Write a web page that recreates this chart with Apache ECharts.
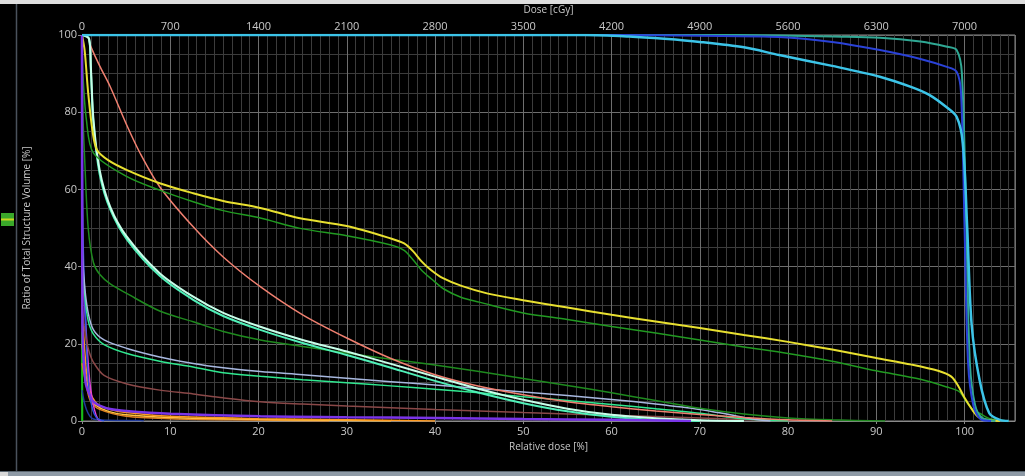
<!DOCTYPE html>
<html><head><meta charset="utf-8">
<script src="https://cdn.jsdelivr.net/npm/echarts@6/dist/echarts.min.js"></script>
<style>html,body{margin:0;padding:0;background:#000;}#c{width:1025px;height:476px;}</style>
</head><body><div id="c"></div>
<script>
// ---- tick labels ----
const relTicks = [0,10,20,30,40,50,60,70,80,90,100];
const doseTicks = [0,700,1400,2100,2800,3500,4200,4900,5600,6300,7000];
const volTicks = [0,20,40,60,80,100];
const prescription = 7000;   // cGy at 100 %
const relMax = 7400 / 70;    // 105.714 %

// ---- DVH curves: relative dose [%] / volume [%] ----
const tealX = [0,70,79,85,90.4,95,97.9,99.1,99.7,100.2,100.6,101.2,102,103.5];
const tealY = [100,100,99.9,99.6,99.3,98.3,97,96.1,90,50,15,4,0.8,0];
const blueX = [0,60,70,79,85,90.4,95,97.9,99.1,99.6,100.0,100.4,101,101.8,103];
const blueY = [100,100,99.8,99.5,98.2,96.1,93.8,91.8,90.5,85,50,15,4,0.5,0];
const cyanX = [0,57,62,66,70,75,79,85,90.4,94,96,97.9,99.1,99.8,100.3,100.8,101.7,102.8,104,105];
const cyanY = [100,100,99.6,99,98.2,96.8,94.8,92,89.2,86.5,84.5,81.4,78.8,72,50,25,10.6,2,0.3,0];
const yellowX = [0,0.3,0.7,1.2,1.7,3,5.1,8.8,12.6,16,20.2,24.7,30,35,36.5,37.5,38.5,39.5,40.9,43,46,50,55,60,65,70,75,80,85,90,94,97,98.5,99.3,100,100.9,101.6,102.5,104];
const yellowY = [100,96,85,75,70.2,67.5,65,61.6,59,57,55.2,52.5,50.5,47.3,46,44,41.3,39.2,37,35,33,31.3,29.4,27.5,25.8,24.1,22.3,20.5,18.5,16.3,14.6,13,11.5,9,6,2.8,1,0.3,0];
const greenAX = [0,0.1,0.5,1.3,5.1,8.8,12.6,16,20.2,24.7,30,35,36.5,37.5,38.5,39.6,41,43,45,50,55,60,65,70,75,80,85,90,95,98,99.4,100.2,101,101.7,103,105];
const greenAY = [100,90,78,69.4,63.3,59.8,56.8,54.5,52.6,49.9,48,45.6,44.2,41.8,39,36.8,34.2,32,30.8,28,26.3,24.5,22.8,21,19.2,17.5,15.5,13,10.8,8.8,7.6,5,2.8,2,0.5,0];
const greenBX = [0,0.1,0.3,0.7,1.3,2,3.2,5.1,8.8,12.6,16,20.2,25,30,35,40,45,50,55,60,65,70,75,80,85,91];
const greenBY = [100,80,68,50,41,38,35.5,33,28.5,25.7,23.2,21,19.3,17.6,16,14.5,12.8,11,9.2,7.3,5.3,3.3,1.8,0.8,0.3,0];
const salmonX = [0,0.5,1,2,3.2,5,6.6,8.8,12.6,16,20.2,25,30,35,40,45,50,55,60,65,70,75,80,85];
const salmonY = [100,100,97,92,86.6,77,69.3,60.7,50.3,42.5,34.8,27.5,21.5,16.2,12,9,6.8,5,3.7,2.6,1.7,0.9,0.3,0];
const paleX = [0,0.8,1.0,1.3,2,3.2,5.1,8.8,12.6,16,20.2,25,30,35,40,45,50,55,60,65,70,75];
const paleY = [100,99,92,78,65,55.5,47.7,38.3,32.2,28,24.4,21,18,14.8,11.5,8.3,5.5,3.2,1.6,0.7,0.2,0];
const aquaX = [0,0.8,1.0,1.3,2,3.2,5.1,8.8,12.6,16,20.2,25,30,35,40,45,50,55,60,65,70];
const aquaY = [100,99,91,77,64,54.8,47,37.6,31.4,27.2,23.6,20.2,17.1,13.8,10.4,7.3,4.6,2.5,1.1,0.3,0];
const lavenderX = [0,0.05,0.3,0.7,1.3,2.5,5.1,8.8,12.6,16,20.2,25,30,35,40,45,50,55,60,65,70,73,76,78];
const lavenderY = [100,45,35,28,23.6,21,18.8,16.6,14.9,13.8,12.8,12,11.1,10.2,9.3,8.4,7.5,6.6,5.6,4.4,3,1.8,0.5,0];
const mintX = [0,0.05,0.3,0.7,1.3,2.5,5.1,8.8,12.6,16,20.2,25,30,35,40,45,50,55,60,65,70,74,78,80];
const mintY = [100,42,33,26,22.5,19.8,17.5,15.5,14,12.5,11.6,10.7,9.9,9.1,8.2,7.3,6.3,5.3,4.3,3.2,2,0.8,0.2,0];
const brownX = [0,0.05,0.4,0.8,1.3,2.5,5.1,8.8,12.6,16,20.2,25,30,40,50,60,70,75,80];
const brownY = [100,30,22,18,15.2,11.8,9.6,8,7,6,5,4.4,3.9,3,2.2,1.5,0.8,0.4,0];
const purpleX = [0,0.05,0.4,1,1.3,2,3.2,5,10,20.2,30,40,50,60,69];
const purpleY = [100,25,10,6,5,4,3.1,2.6,1.9,1.2,1.0,0.8,0.5,0.3,0];
const orangeAX = [0,0.5,1,1.5,2,3.2,5,10,20,30,40];
const orangeAY = [30,13,7,5,4,3,2.2,1.2,0.6,0.3,0];
const orangeBX = [0,0.5,1,1.5,3,5,10,20,30,35];
const orangeBY = [20,11,6,4.2,2.5,1.6,0.9,0.4,0.1,0];
const orangeCX = [0,0.6,1,2,5,10,20,28];
const orangeCY = [15,8,5,3,1.2,0.6,0.25,0];
const magentaX = [0,0.3,0.7,1,1.4,1.8,2.2];
const magentaY = [40,30,15,8,3,0.5,0];
const royalX = [0,0.1,0.5,0.8,1.2,1.6,2,2.5];
const royalY = [100,50,20,8,3,1,0.3,0];
const navyX = [0,0.5,1.3,3,6.6,7];
const navyY = [8,3,0.5,0.2,0.1,0];
const greenVX = [0,0.03];
const greenVY = [23,0];

const curves = [
  ['greenV', greenVX, greenVY, '#12c012', 2],
  ['navy', navyX, navyY, '#203a9a', 1.5],
  ['orangeC', orangeCX, orangeCY, '#e08020', 1.5],
  ['orangeB', orangeBX, orangeBY, '#ffc040', 1.5],
  ['orangeA', orangeAX, orangeAY, '#ff9a20', 1.5],
  ['magenta', magentaX, magentaY, '#e040d8', 1.5],
  ['royal', royalX, royalY, '#3050e0', 1.5],
  ['brown', brownX, brownY, '#8a4848', 1.5],
  ['mint', mintX, mintY, '#30e890', 1.5],
  ['lavender', lavenderX, lavenderY, '#a8b8e0', 1.5],
  ['greenB', greenBX, greenBY, '#1e8a1e', 1.5],
  ['salmon', salmonX, salmonY, '#f08070', 1.5],
  ['aqua', aquaX, aquaY, '#50f0b8', 2],
  ['pale', paleX, paleY, '#c8ffea', 2],
  ['greenA', greenAX, greenAY, '#219a21', 1.5],
  ['yellow', yellowX, yellowY, '#e8e030', 2],
  ['purple', purpleX, purpleY, '#7a34e8', 2.5],
  ['teal', tealX, tealY, '#2fa894', 2],
  ['blue', blueX, blueY, '#2a42d8', 2],
  ['cyan', cyanX, cyanY, '#3cc4e8', 2.5]
];

const labelColor = '#c8c8c8';
const font = '"Open Sans", "DejaVu Sans", sans-serif';

const chart = echarts.init(document.getElementById('c'), null, {renderer: 'canvas'});
chart.setOption({
  backgroundColor: '#000',
  animation: false,
  grid: {left: 82, right: 10, top: 35, bottom: 55, show: true, borderColor: '#8a8a8a', borderWidth: 1,
         backgroundColor: 'transparent', containLabel: false, outerBoundsMode: 'none'},
  xAxis: [
    {
      type: 'value', position: 'bottom', min: 0, max: relMax, interval: 10, z: 3,
      name: 'Relative dose [%]', nameLocation: 'middle', nameGap: 21,
      nameTextStyle: {color: labelColor, fontSize: 10, fontFamily: font},
      axisLine: {show: true, lineStyle: {color: '#8a8a8a'}},
      axisTick: {show: true, length: 3, lineStyle: {color: '#8a8a8a'}},
      axisLabel: {color: labelColor, fontSize: 11, fontFamily: font, margin: 5, showMaxLabel: false,
        formatter: v => relTicks.includes(Math.round(v)) ? String(Math.round(v)) : ''},
      splitLine: {show: true, lineStyle: {color: '#6e6e6e', width: 1}}
    },
    {
      type: 'value', position: 'top', min: 0, max: prescription * relMax / 100, interval: 700,
      name: 'Dose [cGy]', nameLocation: 'middle', nameGap: 20,
      nameTextStyle: {color: labelColor, fontSize: 10, fontFamily: font},
      axisLine: {show: false},
      axisTick: {show: false},
      axisLabel: {color: labelColor, fontSize: 11, fontFamily: font, margin: 3, showMaxLabel: false,
        formatter: v => doseTicks.includes(Math.round(v)) ? String(Math.round(v)) : ''},
      splitLine: {show: false}
    },
    {
      type: 'value', position: 'bottom', min: 0, max: relMax, interval: 1, z: 1,
      axisLine: {show: false}, axisTick: {show: false}, axisLabel: {show: false},
      splitLine: {show: true, lineStyle: {color: '#3c3c3c', width: 1}}
    }
  ],
  yAxis: {
    type: 'value', min: 0, max: 100, interval: 20,
    name: 'Ratio of Total Structure Volume [%]', nameLocation: 'middle', nameGap: 50,
    nameTextStyle: {color: labelColor, fontSize: 10, fontFamily: font},
    axisLine: {show: true, lineStyle: {color: '#8a8a8a'}},
    axisTick: {show: true, length: 4, lineStyle: {color: '#8a8a8a'}},
    axisLabel: {color: labelColor, fontSize: 11, fontFamily: font, margin: 5,
      formatter: v => volTicks.includes(v) ? String(v) : ''},
    splitLine: {show: true, lineStyle: {color: '#6e6e6e'}},
    minorTick: {show: false, splitNumber: 4},
    minorSplitLine: {show: true, lineStyle: {color: '#3c3c3c'}}
  },
  series: curves.map(([name, xs, ys, color, w]) => ({
    name, type: 'line', xAxisIndex: 0, yAxisIndex: 0,
    data: xs.map((x, i) => [x, ys[i]]),
    showSymbol: false, symbol: 'none', smooth: 0.3,
    lineStyle: {color, width: w}, z: 5
  })),
  graphic: [
    {type: 'rect', shape: {x: 0, y: 0, width: 1025, height: 4}, style: {fill: '#dedede'}, silent: true},
    {type: 'line', shape: {x1: 16.5, y1: 4, x2: 16.5, y2: 471}, style: {stroke: '#4a525c', lineWidth: 1.5}, silent: true},
    {type: 'rect', shape: {x: 1, y: 213, width: 13, height: 13}, style: {fill: '#3aa82a'}, silent: true},
    {type: 'rect', shape: {x: 1, y: 218.5, width: 13, height: 2}, style: {fill: '#c8d820'}, silent: true},
    {type: 'rect', shape: {x: 0, y: 471, width: 1025, height: 5}, style: {fill: '#8e9aa6'}, silent: true},
    {type: 'rect', shape: {x: 0, y: 471, width: 1025, height: 1}, style: {fill: '#5a6670'}, silent: true},
    {type: 'rect', shape: {x: 0, y: 472, width: 8, height: 4}, style: {fill: '#d8d8d8'}, silent: true}
  ]
});
</script>
</body></html>
